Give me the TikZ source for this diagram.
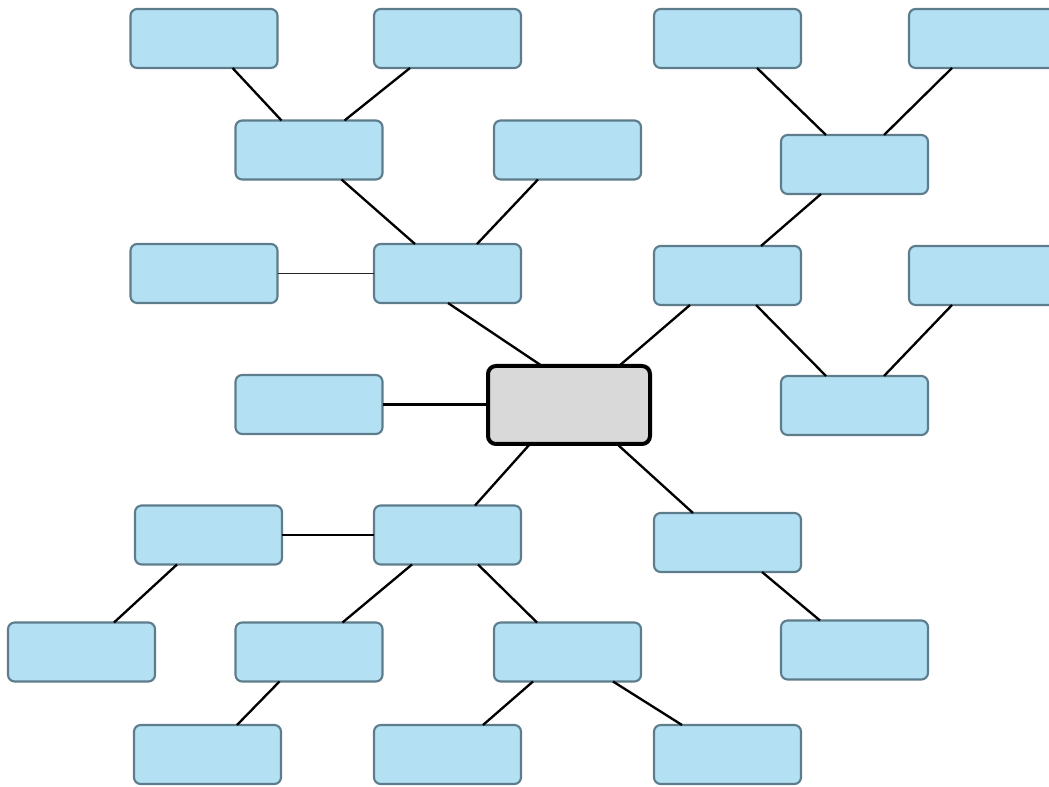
\documentclass[tikz,border=0pt]{standalone}
\usetikzlibrary{calc}
\definecolor{boxfill}{HTML}{B3E0F3}
\definecolor{boxline}{HTML}{5E7D8C}
\definecolor{hubfill}{HTML}{D9D9D9}
\begin{document}
\begin{tikzpicture}[x=0.75pt,y=-0.75pt,
  leaf/.style={draw=boxline,fill=boxfill,line width=1.6pt,rounded corners=5pt,
    minimum width=110.25pt,minimum height=44.25pt,inner sep=0pt,outer sep=0pt},
  hub/.style={draw=black,fill=hubfill,line width=3pt,rounded corners=6pt,
    minimum width=121.5pt,minimum height=58.5pt,inner sep=0pt,outer sep=0pt},
  link/.style={draw=black,line width=1.75pt},
  thinlink/.style={draw=black!85,line width=1pt}]
\useasboundingbox (0,0) rectangle (1049,787);
\clip (0,0) rectangle (1049,787);
% boxes
\node[leaf] (A) at (204,38.5) {};
\node[leaf] (B) at (447.5,38.5) {};
\node[leaf] (C) at (727.5,38.5) {};
\node[leaf] (D) at (982.5,38.5) {};
\node[leaf] (E) at (309,150) {};
\node[leaf] (F) at (567.5,150) {};
\node[leaf] (G) at (854.5,164.5) {};
\node[leaf] (H) at (204,273.5) {};
\node[leaf] (I) at (447.5,273.5) {};
\node[leaf] (J) at (727.5,275.5) {};
\node[leaf] (K) at (982.5,275.5) {};
\node[leaf] (L) at (309,404.5) {};
\node[hub]  (Z) at (569,405) {};
\node[leaf] (M) at (854.5,405.5) {};
\node[leaf] (N) at (208.5,535) {};
\node[leaf] (O) at (447.5,535) {};
\node[leaf] (P) at (727.5,542.5) {};
\node[leaf] (Q) at (81.5,652) {};
\node[leaf] (R) at (309,652) {};
\node[leaf] (S) at (567.5,652) {};
\node[leaf] (T) at (854.5,650) {};
\node[leaf] (U) at (207.5,754.5) {};
\node[leaf] (V) at (447.5,754.5) {};
\node[leaf] (W) at (727.5,754.5) {};
% connectors
\draw[link] ($(A.south west)+(102,0)$) -- ($(E.north west)+(46,0)$);
\draw[link] ($(B.south west)+(36,0)$) -- ($(E.north west)+(109,0)$);
\draw[link] ($(E.south west)+(106,0)$) -- ($(I.north west)+(41,0)$);
\draw[link] ($(F.south west)+(44,0)$) -- ($(I.north west)+(103,0)$);
\draw[thinlink] (H.east) -- (I.west);
\draw[link] ($(I.south west)+(74,0)$) -- ($(Z.north west)+(54,0)$);
\draw[link] ($(C.south west)+(103,0)$) -- ($(G.north west)+(45,0)$);
\draw[link] ($(D.south west)+(43,0)$) -- ($(G.north west)+(103,0)$);
\draw[link] ($(G.south west)+(40,0)$) -- ($(J.north west)+(107,0)$);
\draw[link] ($(J.south west)+(36,0)$) -- ($(Z.north west)+(131,0)$);
\draw[link] ($(J.south west)+(102,0)$) -- ($(M.north west)+(45,0)$);
\draw[link] ($(K.south west)+(43,0)$) -- ($(M.north west)+(103,0)$);
\draw[link] (L.east) -- (L.east -| Z.west);
\draw[link] ($(Z.south west)+(42,0)$) -- ($(O.north west)+(101,0)$);
\draw[link] ($(Z.south west)+(129,0)$) -- ($(P.north west)+(39,0)$);
\draw[link] (N.east) -- (O.west);
\draw[link] ($(N.south west)+(42,0)$) -- ($(Q.north west)+(106,0)$);
\draw[link] ($(O.south west)+(38,0)$) -- ($(R.north west)+(107,0)$);
\draw[link] ($(O.south west)+(104,0)$) -- ($(S.north west)+(43,0)$);
\draw[link] ($(P.south west)+(108,0)$) -- ($(T.north west)+(39,0)$);
\draw[link] ($(R.south west)+(44,0)$) -- ($(U.north west)+(103,0)$);
\draw[link] ($(S.south west)+(39,0)$) -- ($(V.north west)+(109,0)$);
\draw[link] ($(S.south west)+(119,0)$) -- ($(W.north west)+(28,0)$);
\end{tikzpicture}
\end{document}
